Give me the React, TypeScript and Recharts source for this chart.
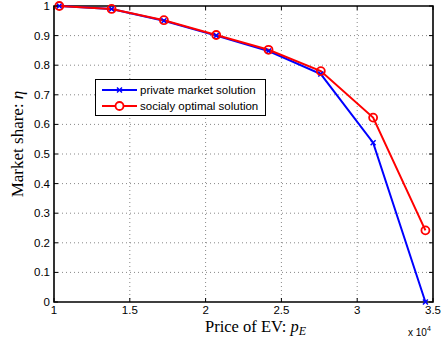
import React from "react";
import {
  LineChart,
  Line,
  XAxis,
  YAxis,
  CartesianGrid,
  ReferenceArea,
  Legend,
} from "recharts";

const prices = [10350, 13800, 17250, 20700, 24150, 27600, 31050, 34500];
const privateShare = [1.0, 0.99, 0.95, 0.9, 0.848, 0.77, 0.538, 0.0];
const socialShare = [1.0, 0.99, 0.952, 0.902, 0.852, 0.78, 0.623, 0.242];
const xTicks = [10000, 15000, 20000, 25000, 30000, 35000];
const yTicks = [0, 0.1, 0.2, 0.3, 0.4, 0.5, 0.6, 0.7, 0.8, 0.9, 1];
const seriesNames = ["private market solution", "socialy optimal solution"];

const data = prices.map((p, i) => ({
  price: p,
  priv: privateShare[i],
  soc: socialShare[i],
}));

const W = 442;
const H = 341;
const PLOT_TOP = 6;
const PLOT_LEFT = 54;
const PLOT_RIGHT = 433;
const PLOT_BOTTOM = 302;
const TICK_LEN = 4;
const SANS = "Liberation Sans, Arial, sans-serif";
const SERIF = "Liberation Serif, Times New Roman, serif";

const fmtX = (v: number) => String(v / 10000);
const fmtY = (v: number) => (v === 0 || v === 1 ? String(v) : v.toFixed(1));

const XTick = (props: any) => {
  const { x, y, payload } = props;
  return (
    <g>
      <line x1={x} x2={x} y1={y} y2={y - TICK_LEN} stroke="#000" strokeWidth={1} />
      <line x1={x} x2={x} y1={PLOT_TOP} y2={PLOT_TOP + TICK_LEN} stroke="#000" strokeWidth={1} />
      <text x={x} y={y + 12} textAnchor="middle" fontFamily={SANS} fontSize={11.5} fill="#000">
        {fmtX(payload.value)}
      </text>
    </g>
  );
};

const YTick = (props: any) => {
  const { x, y, payload } = props;
  return (
    <g>
      <line x1={x} x2={x + TICK_LEN} y1={y} y2={y} stroke="#000" strokeWidth={1} />
      <line x1={PLOT_RIGHT} x2={PLOT_RIGHT - TICK_LEN} y1={y} y2={y} stroke="#000" strokeWidth={1} />
      <text x={x - 4} y={y + 4} textAnchor="end" fontFamily={SANS} fontSize={11.5} fill="#000">
        {fmtY(payload.value)}
      </text>
    </g>
  );
};

const CrossDot = (props: any) => {
  const { cx, cy } = props;
  if (cx == null || cy == null) return null;
  const s = 2.5;
  return (
    <g>
      <line x1={cx - s} y1={cy - s} x2={cx + s} y2={cy + s} stroke="#0000ff" strokeWidth={1.5} />
      <line x1={cx - s} y1={cy + s} x2={cx + s} y2={cy - s} stroke="#0000ff" strokeWidth={1.5} />
    </g>
  );
};

const CircleDot = (props: any) => {
  const { cx, cy } = props;
  if (cx == null || cy == null) return null;
  return <circle cx={cx} cy={cy} r={4} fill="none" stroke="#ff0000" strokeWidth={1.8} />;
};

const XLabel = (props: any) => {
  const vb = props.viewBox || { x: 0, y: 0, width: 0, height: 0 };
  const cx = vb.x + vb.width / 2 + 12;
  return (
    <g>
      <text x={cx} y={332} textAnchor="middle" fontFamily={SERIF} fontSize={16.5} fill="#000">
        Price of EV:{" "}
        <tspan fontStyle="italic">p</tspan>
        <tspan fontStyle="italic" fontSize={12} dy={3}>E</tspan>
      </text>
      <text x={408} y={336} fontFamily={SANS} fontSize={10} fill="#000">
        x 10
        <tspan fontSize={7} dy={-5}>4</tspan>
      </text>
    </g>
  );
};

const YLabel = () => {
  const cy = 144;
  const cx = 23;
  return (
    <text
      x={cx}
      y={cy}
      transform={`rotate(-90, ${cx}, ${cy})`}
      textAnchor="middle"
      fontFamily={SERIF}
      fontSize={17}
      fill="#000"
    >
      Market share: <tspan fontStyle="italic">η</tspan>
    </text>
  );
};

const colors = ["#0000ff", "#ff0000"];

const LegendBox = () => (
  <div
    style={{
      width: 169,
      height: 35,
      border: "1px solid #000",
      background: "#fff",
      fontFamily: SANS,
      fontSize: 11.5,
      color: "#000",
      boxSizing: "content-box",
    }}
  >
    {seriesNames.map((name, i) => (
      <div key={name} style={{ display: "flex", alignItems: "center", height: 16, marginTop: i === 0 ? 2 : 0 }}>
        <svg width={44} height={16} style={{ flex: "none" }}>
          <line x1={6} x2={41} y1={8} y2={8} stroke={colors[i]} strokeWidth={2} />
          {i === 0 ? (
            <g>
              <line x1={21} y1={5.5} x2={26} y2={10.5} stroke={colors[i]} strokeWidth={1.5} />
              <line x1={21} y1={10.5} x2={26} y2={5.5} stroke={colors[i]} strokeWidth={1.5} />
            </g>
          ) : (
            <circle cx={23.5} cy={8} r={4} fill="#fff" stroke={colors[i]} strokeWidth={1.8} />
          )}
        </svg>
        <span style={{ whiteSpace: "nowrap" }}>{name}</span>
      </div>
    ))}
  </div>
);

export default function App() {
  return (
    <div style={{ position: "absolute", left: 0, top: 0, width: W, height: H, background: "#fff" }}>
      <LineChart
        width={W}
        height={H}
        data={data}
        margin={{ top: PLOT_TOP, right: W - PLOT_RIGHT, left: 0, bottom: 0 }}
      >
        <CartesianGrid
          stroke="#888"
          strokeDasharray="1 3"
          horizontalValues={yTicks.slice(1, -1)}
          verticalValues={xTicks.slice(1, -1)}
        />
        <XAxis
          dataKey="price"
          type="number"
          domain={[10000, 35000]}
          ticks={xTicks}
          interval={0}
          height={H - PLOT_BOTTOM}
          tickSize={0}
          tickMargin={0}
          tickLine={false}
          axisLine={false}
          tick={<XTick />}
          label={<XLabel />}
        />
        <YAxis
          type="number"
          domain={[0, 1]}
          ticks={yTicks}
          interval={0}
          width={PLOT_LEFT}
          tickSize={0}
          tickMargin={0}
          tickLine={false}
          axisLine={false}
          tick={<YTick />}
          label={<YLabel />}
        />
        <ReferenceArea
          x1={10000}
          x2={35000}
          y1={0}
          y2={1}
          fill="none"
          stroke="#000"
          strokeWidth={1.6}
          fillOpacity={0}
        />
        <Line
          dataKey="priv"
          name={seriesNames[0]}
          stroke="#0000ff"
          strokeWidth={2}
          dot={<CrossDot />}
          activeDot={false}
          isAnimationActive={false}
        />
        <Line
          dataKey="soc"
          name={seriesNames[1]}
          stroke="#ff0000"
          strokeWidth={2}
          dot={<CircleDot />}
          activeDot={false}
          isAnimationActive={false}
        />
        <Legend
          layout="horizontal"
          verticalAlign="middle"
          align="center"
          content={<LegendBox />}
          wrapperStyle={{ position: "absolute", left: 95, top: 79, width: 171, height: 37 }}
        />
      </LineChart>
    </div>
  );
}
